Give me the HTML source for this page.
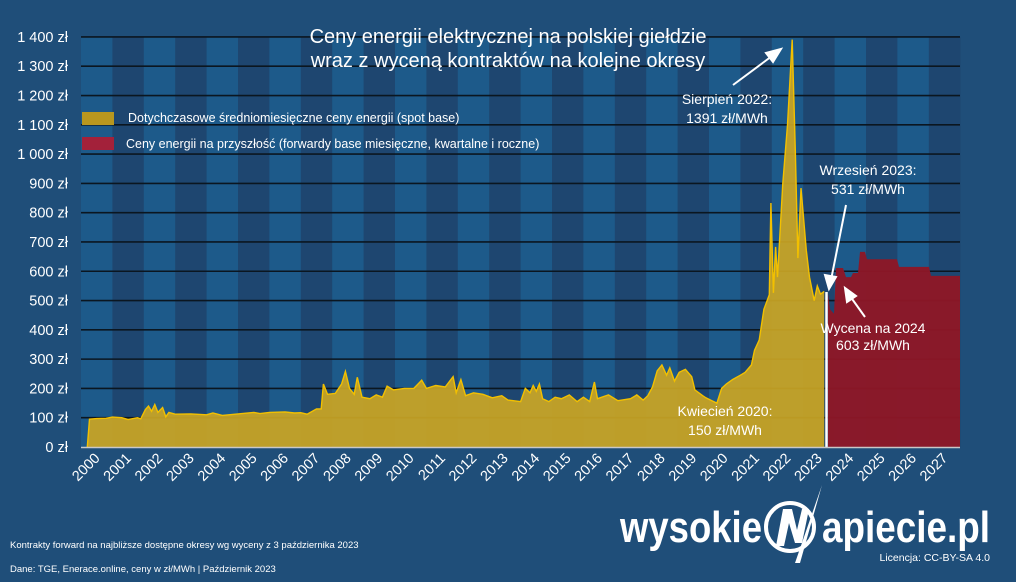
<!DOCTYPE html>
<html><head><meta charset="utf-8">
<style>
html,body{margin:0;padding:0;background:#1f4e79;}
svg{display:block;font-family:"Liberation Sans","DejaVu Sans",sans-serif;}
</style></head>
<body>
<svg id="s" width="1016" height="582" viewBox="0 0 1016 582" xmlns="http://www.w3.org/2000/svg">
<rect width="1016" height="582" fill="#1f4e79"/>
<g id="stripes"></g>
<g id="grid"></g>
<path id="spot" fill="#c9a524" fill-opacity="0.93" stroke="none"/>
<path id="spotline" fill="none" stroke="#f2c000" stroke-width="1.4"/>
<path id="fwd" fill="#8e1727" fill-opacity="0.96"/>
<line x1="826.5" y1="292" x2="826.5" y2="447" stroke="#fff" stroke-width="2.5"/>
<line x1="81" y1="447.5" x2="960" y2="447.5" stroke="#c8c8c8" stroke-width="1.5"/>
<g id="ylab" fill="#fff" font-size="14.5" text-anchor="end"></g>
<g id="xlab" fill="#fff" font-size="14.5" text-anchor="end"></g>
<text x="508" y="43" fill="#fff" font-size="20" text-anchor="middle">Ceny energii elektrycznej na polskiej giełdzie</text>
<text x="508" y="67" fill="#fff" font-size="20" text-anchor="middle">wraz z wyceną kontraktów na kolejne okresy</text>
<rect x="82" y="112" width="32" height="13" fill="#b8971f"/>
<text x="128" y="122" fill="#fff" font-size="12.5">Dotychczasowe średniomiesięczne ceny energii (spot base)</text>
<rect x="82" y="137" width="32" height="13" fill="#a3213a"/>
<text x="126" y="148" fill="#fff" font-size="12.5">Ceny energii na przyszłość (forwardy base miesięczne, kwartalne i roczne)</text>
<g fill="#fff" font-size="14" text-anchor="middle">
<text x="727" y="104">Sierpień 2022:</text>
<text x="727" y="123">1391 zł/MWh</text>
<text x="868" y="175">Wrzesień 2023:</text>
<text x="868" y="194">531 zł/MWh</text>
<text x="873" y="333">Wycena na 2024</text>
<text x="873" y="350">603 zł/MWh</text>
<text x="725" y="416">Kwiecień 2020:</text>
<text x="725" y="435">150 zł/MWh</text>
</g>
<g stroke="#fff" stroke-width="2" fill="#fff">
<line x1="733" y1="85" x2="772" y2="56"/><polygon points="781,49 766,53 773,62"/>
<line x1="846" y1="205" x2="831" y2="280"/><polygon points="829,289 825,275 836,277"/>
<line x1="865" y1="317" x2="850" y2="296"/><polygon points="845,288 847,302 856,296"/>
</g>
<text x="620" y="542" fill="#fff" font-size="44" font-weight="bold" textLength="142" lengthAdjust="spacingAndGlyphs">wysokie</text>
<circle cx="790" cy="527" r="24" fill="none" stroke="#fff" stroke-width="4"/>
<polygon points="776,546 783,509 792,509 797,530 802,509 809,509 802,543 795,543 789,523 784,546" fill="#fff"/>
<polygon points="822,485 795,563 800,563" fill="#fff"/>
<text x="822" y="542" fill="#fff" font-size="44" font-weight="bold" textLength="168" lengthAdjust="spacingAndGlyphs">apiecie.pl</text>
<text x="990" y="561" fill="#fff" font-size="10.5" text-anchor="end">Licencja: CC-BY-SA 4.0</text>
<text x="10" y="548" fill="#fff" font-size="9.5">Kontrakty forward na najbliższe dostępne okresy wg wyceny z 3 października 2023</text>
<text x="10" y="572" fill="#fff" font-size="9.5">Dane: TGE, Enerace.online, ceny w zł/MWh  | Październik 2023</text>
</svg>
<script>
var NS="http://www.w3.org/2000/svg";
function el(t,a,p,txt){var e=document.createElementNS(NS,t);for(var k in a)e.setAttribute(k,a[k]);if(txt!==undefined)e.textContent=txt;p.appendChild(e);return e;}
var X0=81,W=31.4,Y0=447,K=0.2929;
function px(y){return X0+(y-2000)*W;} function py(v){return Y0-v*K;}
var st=document.getElementById('stripes');
for(var i=0;i<28;i++){el('rect',{x:X0+i*W,y:37,width:W+0.3,height:410,fill:i%2==0?'#1d5a8a':'#1e4670'},st);}
var g=document.getElementById('grid'),yl=document.getElementById('ylab');
for(var v=0;v<=1400;v+=100){var y=py(v);if(v>0)el('line',{x1:X0,x2:960,y1:y,y2:y,stroke:'#0b1620','stroke-width':1.6},g);
var s=v>=1000?(Math.floor(v/1000)+' '+String(v%1000).padStart(3,'0')):String(v);el('text',{x:68,y:y+5},yl,s+' zł');}
var xl=document.getElementById('xlab');
for(var i=0;i<28;i++){var cx=X0+i*W+W/2+4;el('text',{x:cx,y:459,transform:'rotate(-45 '+cx+' 459)'},xl,String(2000+i));}
var d=[[2000.2,0],[2000.27,95],[2000.5,97],[2000.8,98],[2001,102],[2001.3,100],[2001.5,94],[2001.8,100],[2001.9,96],[2002.05,128],[2002.15,140],[2002.25,122],[2002.35,145],[2002.45,118],[2002.6,135],[2002.7,103],[2002.8,118],[2003,112],[2003.5,113],[2004,110],[2004.2,116],[2004.5,108],[2005,113],[2005.5,118],[2005.7,114],[2006,118],[2006.5,120],[2006.8,116],[2007,117],[2007.2,112],[2007.5,130],[2007.65,130],[2007.72,215],[2007.85,180],[2008.1,183],[2008.3,215],[2008.42,258],[2008.55,200],[2008.7,180],[2008.8,238],[2008.95,170],[2009.2,165],[2009.4,178],[2009.6,170],[2009.75,208],[2009.95,195],[2010.3,200],[2010.6,200],[2010.85,228],[2011,200],[2011.3,210],[2011.6,205],[2011.85,240],[2011.95,185],[2012.1,230],[2012.25,175],[2012.5,185],[2012.8,180],[2013.1,168],[2013.4,175],[2013.6,160],[2014,155],[2014.15,200],[2014.3,185],[2014.4,210],[2014.5,190],[2014.6,215],[2014.7,165],[2014.9,155],[2015.1,170],[2015.3,165],[2015.55,178],[2015.8,155],[2016,170],[2016.2,155],[2016.35,222],[2016.45,165],[2016.8,178],[2017.1,158],[2017.5,165],[2017.7,178],[2017.9,160],[2018.05,175],[2018.2,205],[2018.35,260],[2018.5,280],[2018.65,245],[2018.75,270],[2018.9,225],[2019.05,255],[2019.25,265],[2019.45,240],[2019.55,195],[2019.8,175],[2019.9,168],[2020.05,160],[2020.25,150],[2020.4,200],[2020.55,215],[2020.75,230],[2021,245],[2021.15,255],[2021.35,280],[2021.45,330],[2021.6,365],[2021.75,470],[2021.92,520],[2021.97,833],[2022.05,526],[2022.12,683],[2022.18,580],[2022.35,900],[2022.5,1100],[2022.65,1391],[2022.75,1000],[2022.83,645],[2022.93,884],[2023.1,672],[2023.2,580],[2023.35,500],[2023.45,550],[2023.55,522],[2023.67,531]];
var p='M'+px(2000.2)+' '+Y0,l='';
d.forEach(function(q,i){var s=px(q[0]).toFixed(1)+' '+py(q[1]).toFixed(1);p+=' L'+s;l+=(i?' L':'M')+s;});
p+=' L'+px(2023.67)+' '+Y0+' Z';
document.getElementById('spot').setAttribute('d',p);
document.getElementById('spotline').setAttribute('d',l);
var f=[[828,525],[830,470],[834,455],[836,611],[843,611],[846,580],[851,580],[853,594],[858,594],[860,666],[865,666],[867,641],[897,641],[899,615],[929,615],[931,584],[960,584]];
var fp='M828 '+Y0;f.forEach(function(q){fp+=' L'+q[0]+' '+py(q[1]).toFixed(1);});fp+=' L960 '+Y0+' Z';
document.getElementById('fwd').setAttribute('d',fp);
</script>
</body></html>
